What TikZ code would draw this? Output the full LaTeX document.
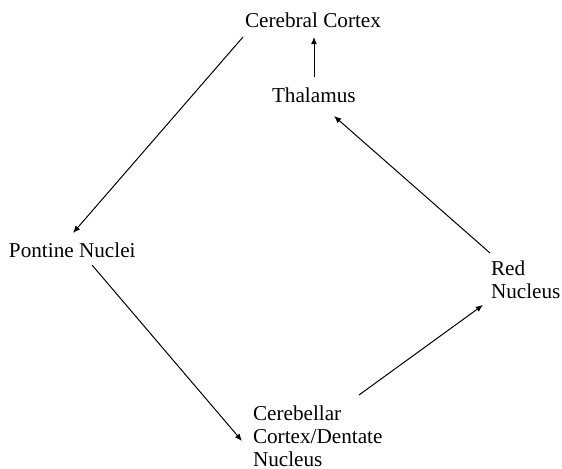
\documentclass[tikz,border=0pt]{standalone}
\usepackage{fontspec}
\setmainfont{Liberation Serif}
\usetikzlibrary{calc,arrows.meta}
\begin{document}
\begin{tikzpicture}[x=0.5pt,y=-0.5pt,
  lbl/.style={inner sep=0pt,outer sep=0pt,font=\fontsize{10.6pt}{11.5pt}\selectfont,align=left},
  conn/.style={line width=0.5pt,-{Latex[length=3.6pt,width=3pt]}}]
\useasboundingbox (0,0) rectangle (562,469);
\node[lbl,anchor=base west] (cc) at (245,28) {Cerebral Cortex};
\node[lbl,anchor=base west] (th) at (272,103) {Thalamus};
\node[lbl,anchor=base west] (pn) at (9,258) {Pontine Nuclei};
\node[lbl,anchor=north west] (cb) at (253,405.5) {Cerebellar\\Cortex/Dentate\\Nucleus};
\node[lbl,anchor=north west] (rn) at (491,260.5) {Red\\Nucleus};
\draw[conn] ($(cc.base west)+(-2,9)$) -- ($(pn.base west)+(64,-25)$);
\draw[conn] ($(th.base west)+(42,-26)$) -- ($(cc.base west)+(69,9)$);
\draw[conn] ($(pn.base west)+(83,7)$) -- ($(cb.north west)+(-11,35.5)$);
\draw[conn] ($(cb.north west)+(106,-10.5)$) -- ($(rn.north west)+(-8,44.5)$);
\draw[conn] ($(rn.north west)+(-1,-7.5)$) -- ($(th.base west)+(62,13)$);
\end{tikzpicture}
\end{document}
